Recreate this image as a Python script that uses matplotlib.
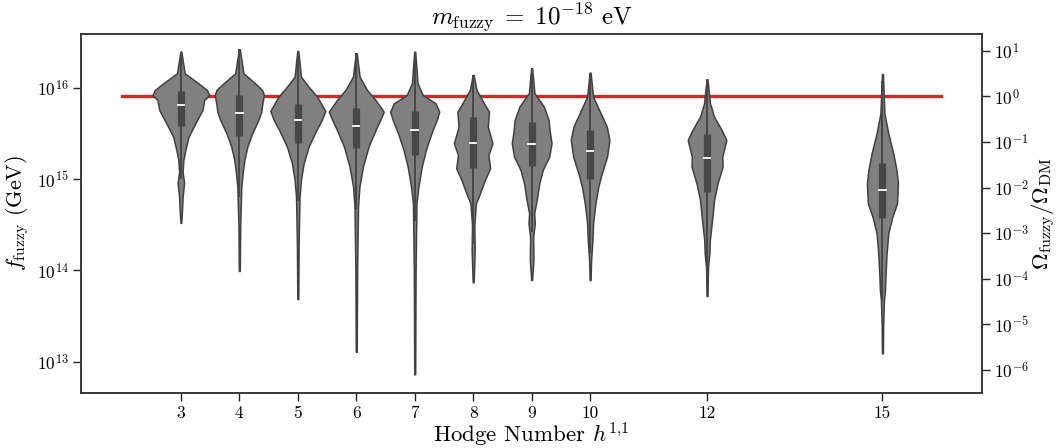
import numpy as np
import matplotlib
matplotlib.use("Agg")
import matplotlib.pyplot as plt

# ---------------- data ----------------
hodge = [3, 4, 5, 6, 7, 8, 9, 10, 12, 15]

# log10(f_fuzzy / GeV) levels (top -> bottom) and relative KDE density (x100) per violin
lev_h3 = [16.397, 16.160, 16.050, 15.977, 15.922, 15.867, 15.758, 15.615, 15.462, 15.319, 15.210, 15.078, 14.958, 14.804, 14.662, 14.520]
den_h3 = [0.8, 6.5, 30, 44.5, 48.5, 40, 37, 25, 13, 7.7, 4.3, 3.0, 5.5, 3.0, 2.0, 0.6]
lev_h4 = [16.423, 16.160, 16.050, 15.977, 15.922, 15.813, 15.739, 15.648, 15.502, 15.356, 15.210, 15.064, 14.917, 14.5, 13.993]
den_h4 = [0.8, 7, 27, 39, 42, 39, 37.6, 32.5, 22, 13.7, 8.6, 5.7, 3.4, 1.5, 0.8]
lev_h5 = [16.404, 16.306, 16.123, 16.013, 15.904, 15.747, 15.648, 15.539, 15.356, 15.173, 14.990, 14.807, 14.3, 13.686]
den_h5 = [0.8, 2.5, 5.4, 18.5, 33, 47, 41, 32, 18.5, 10, 5.4, 3.0, 1.5, 0.8]
lev_h6 = [16.379, 16.123, 15.977, 15.867, 15.739, 15.648, 15.539, 15.356, 15.136, 14.917, 14.698, 14.0, 13.108]
den_h6 = [0.8, 5.7, 18.5, 33, 47, 41, 33, 21, 11.4, 5.4, 3.0, 1.5, 0.8]
lev_h7 = [16.397, 16.050, 15.922, 15.831, 15.739, 15.648, 15.502, 15.319, 15.136, 14.917, 14.735, 14.0, 12.861]
den_h7 = [0.8, 4.8, 13.7, 35.6, 42, 37.6, 28.5, 19, 12, 6.3, 3.0, 1.5, 0.8]
lev_h8 = [16.141, 15.977, 15.831, 15.739, 15.575, 15.393, 15.264, 15.119, 14.990, 14.807, 14.735, 14.5, 14.22, 13.869]
den_h8 = [0.8, 5.7, 18.5, 27, 25, 33, 26, 29, 20, 9.4, 4.6, 2.0, 2.6, 0.8]
lev_h9 = [16.215, 15.941, 15.794, 15.648, 15.520, 15.393, 15.246, 15.100, 14.954, 14.771, 14.625, 14.516, 14.369, 14.114, 13.894]
den_h9 = [0.8, 4.8, 21, 29, 31, 34, 30, 19, 13, 8.6, 4.3, 5.4, 2.6, 3.0, 0.8]
lev_h10 = [16.167, 15.904, 15.722, 15.575, 15.429, 15.246, 15.064, 14.917, 14.735, 14.516, 14.333, 14.114, 13.894]
den_h10 = [0.8, 5.1, 18, 28.5, 33, 29, 20, 14, 9.1, 5.1, 4.0, 1.7, 0.8]
lev_h12 = [16.094, 15.831, 15.684, 15.539, 15.429, 15.246, 15.136, 14.954, 14.771, 14.552, 14.333, 14.187, 14.040, 13.719]
den_h12 = [0.8, 5.1, 12, 25, 33, 26, 26.5, 18, 12, 8.6, 4.8, 4.0, 1.7, 0.8]
lev_h15 = [16.152, 15.722, 15.502, 15.283, 15.100, 14.954, 14.735, 14.588, 14.406, 14.187, 13.968, 13.785, 13.675, 13.383, 13.091]
den_h15 = [0.8, 3.4, 10, 18.5, 24, 26.5, 25, 17, 10, 7.1, 5.4, 4.3, 2.6, 1.2, 0.8]

levels = [lev_h3, lev_h4, lev_h5, lev_h6, lev_h7, lev_h8, lev_h9, lev_h10, lev_h12, lev_h15]
densities = [den_h3, den_h4, den_h5, den_h6, den_h7, den_h8, den_h9, den_h10, den_h12, den_h15]

# quartiles of log10 f
q1_log = [15.582, 15.476, 15.399, 15.338, 15.265, 15.125, 15.144, 14.998, 14.856, 14.571]
med_log = [15.809, 15.725, 15.645, 15.586, 15.535, 15.393, 15.385, 15.308, 15.228, 14.881]
q3_log = [15.966, 15.922, 15.824, 15.780, 15.747, 15.684, 15.630, 15.539, 15.495, 15.174]

f_dm_log = 15.908          # f giving Omega_fuzzy = Omega_DM
ylim_log = (12.656, 16.593)

# ---------------- style ----------------
plt.rcParams["font.family"] = "cmr10"
plt.rcParams["mathtext.fontset"] = "cm"
plt.rcParams["axes.formatter.use_mathtext"] = True
plt.rcParams["axes.unicode_minus"] = False

fill_c = "#808080"
edge_c = "#404040"
box_c = "#474747"
red_c = "#d62728"

fig = plt.figure(figsize=(10.58, 4.48), dpi=100)
ax = fig.add_axes([0.077, 0.1228, 0.851, 0.8018])

ax.plot([2, 16], [10 ** f_dm_log] * 2, color=red_c, lw=2.4, zorder=1)

dscale = 0.01
for h, lv, dn, q1, md, q3 in zip(hodge, levels, densities, q1_log, med_log, q3_log):
    lv = np.array(lv)
    dw = np.array(dn) * dscale
    y = 10 ** lv
    ax.fill_betweenx(y, h - dw, h + dw, facecolor=fill_c, edgecolor=edge_c,
                     lw=1.1, zorder=2)
    iqr = q3 - q1
    wlo = max(q1 - 1.5 * iqr, lv.min())
    whi = min(q3 + 1.5 * iqr, lv.max())
    ax.plot([h, h], [10 ** wlo, 10 ** whi], color=box_c, lw=1.4, zorder=3,
            solid_capstyle="butt")
    ax.plot([h, h], [10 ** q1, 10 ** q3], color=box_c, lw=5.2, zorder=3,
            solid_capstyle="butt")
    ax.plot([h - 0.055, h + 0.055], [10 ** md] * 2, color="white", lw=1.3, zorder=4)

ax.set_yscale("log")
ax.set_ylim(10 ** ylim_log[0], 10 ** ylim_log[1])
ax.set_xlim(1.3, 16.7)
ax.set_xticks(hodge)
ax.set_xticklabels([str(h) for h in hodge])
ax.set_yticks([1e13, 1e14, 1e15, 1e16])
ax.minorticks_off()
ax.tick_params(axis="both", which="major", labelsize=12.5, length=5.5, width=1.0,
               direction="out", color="#222222")
ax.set_xlabel(r"Hodge Number $h^{1{,}1}$", fontsize=16.5, labelpad=0)
ax.set_ylabel(r"$f_{\rm fuzzy}$ (GeV)", fontsize=16, labelpad=4)
ax.set_title(r"$m_{\rm fuzzy}\;=\;10^{-18}$ eV", fontsize=18, pad=3)

ax2 = ax.twinx()
ax2.set_yscale("log")
ax2.set_ylim(10 ** (2 * (ylim_log[0] - f_dm_log)), 10 ** (2 * (ylim_log[1] - f_dm_log)))
ax2.set_yticks([10.0 ** k for k in range(-6, 2)])
ax2.minorticks_off()
ax2.tick_params(axis="y", which="major", labelsize=12.5, length=5.5, width=1.0,
                direction="out", color="#222222")
ax2.set_ylabel(r"$\Omega_{\rm fuzzy}/\Omega_{\rm DM}$", fontsize=16.5, labelpad=0)

for a in (ax, ax2):
    for s in a.spines.values():
        s.set_color("#333333")
        s.set_linewidth(1.1)

fig.savefig("out.png", dpi=100)
